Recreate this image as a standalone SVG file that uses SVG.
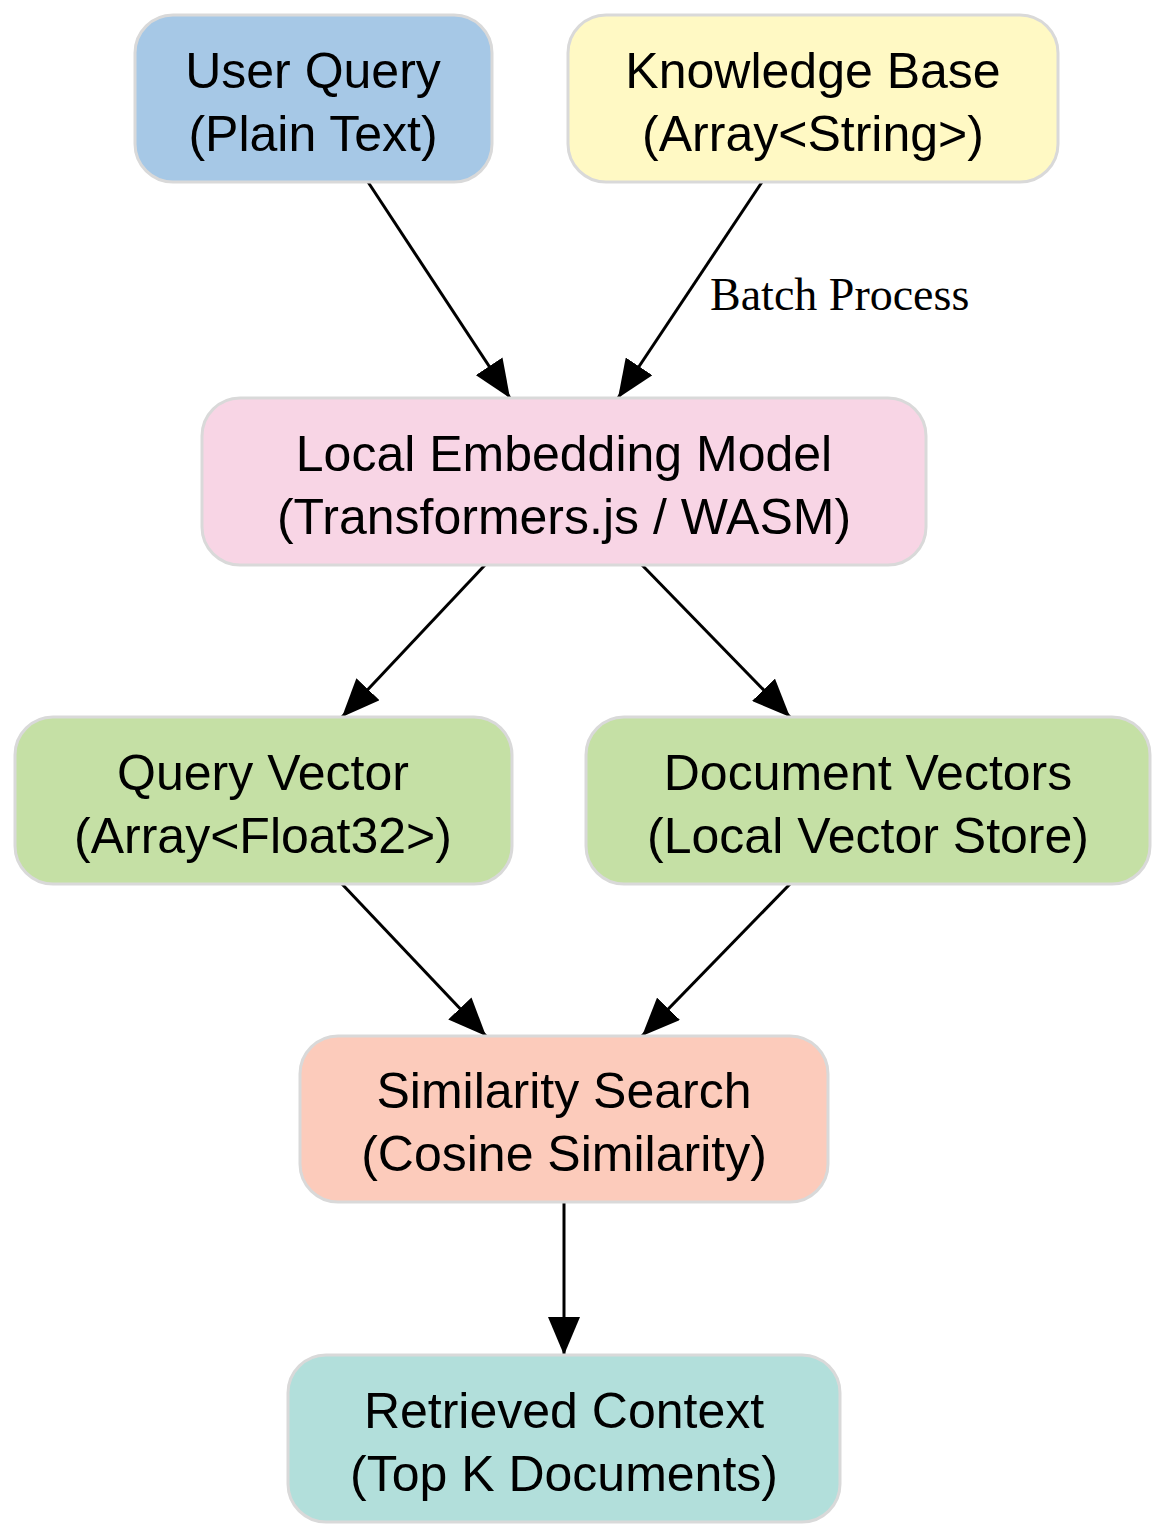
<svg xmlns="http://www.w3.org/2000/svg" width="1167" height="1538" viewBox="0 0 1167 1538">
<style>
.n{stroke:#d9d9d9;stroke-width:3}
.t{font-family:"Liberation Sans",Arial,sans-serif;font-size:50px;text-anchor:middle;fill:#000}
.e{stroke:#000;stroke-width:3;fill:none;marker-end:url(#a)}
.l{font-family:"Liberation Serif","Times New Roman",serif;font-size:46px;fill:#000}
</style>
<defs><marker id="a" markerUnits="userSpaceOnUse" markerWidth="40" markerHeight="32" refX="38" refY="16" orient="auto"><path d="M0,0 L38,16 L0,32 Z" fill="#000"/></marker></defs>
<rect width="1167" height="1538" fill="#fff"/>
<g id="edges">
<line class="e" x1="368" y1="182" x2="510" y2="398"/>
<line class="e" x1="762" y1="182" x2="618" y2="398"/>
<text class="l" x="710" y="310">Batch Process</text>
<line class="e" x1="485" y1="565" x2="342" y2="717"/>
<line class="e" x1="642" y1="565" x2="790" y2="717"/>
<line class="e" x1="342" y1="884" x2="486" y2="1036"/>
<line class="e" x1="790" y1="884" x2="642" y2="1036"/>
<line class="e" x1="564" y1="1202" x2="564" y2="1355"/>
</g>
<g id="user"><rect class="n" x="135" y="15" width="357" height="167" rx="38" fill="#a6c8e6"/><text class="t" x="313" y="88">User Query</text><text class="t" x="313" y="151">(Plain Text)</text></g>
<g id="kb"><rect class="n" x="568" y="15" width="490" height="167" rx="38" fill="#fff9c4"/><text class="t" x="813" y="88">Knowledge Base</text><text class="t" x="813" y="151">(Array&lt;String&gt;)</text></g>
<g id="model"><rect class="n" x="202" y="398" width="724" height="167" rx="38" fill="#f8d5e5"/><text class="t" x="564" y="471">Local Embedding Model</text><text class="t" x="564" y="534">(Transformers.js / WASM)</text></g>
<g id="qv"><rect class="n" x="15" y="717" width="497" height="167" rx="38" fill="#c5e0a5"/><text class="t" x="263" y="790">Query Vector</text><text class="t" x="263" y="853">(Array&lt;Float32&gt;)</text></g>
<g id="dv"><rect class="n" x="586" y="717" width="564" height="167" rx="38" fill="#c5e0a5"/><text class="t" x="868" y="790">Document Vectors</text><text class="t" x="868" y="853">(Local Vector Store)</text></g>
<g id="sim"><rect class="n" x="300" y="1036" width="528" height="166" rx="38" fill="#fccbbb"/><text class="t" x="564" y="1108">Similarity Search</text><text class="t" x="564" y="1171">(Cosine Similarity)</text></g>
<g id="ret"><rect class="n" x="288" y="1355" width="552" height="167" rx="38" fill="#b2dfdb"/><text class="t" x="564" y="1428">Retrieved Context</text><text class="t" x="564" y="1491">(Top K Documents)</text></g>
</svg>
